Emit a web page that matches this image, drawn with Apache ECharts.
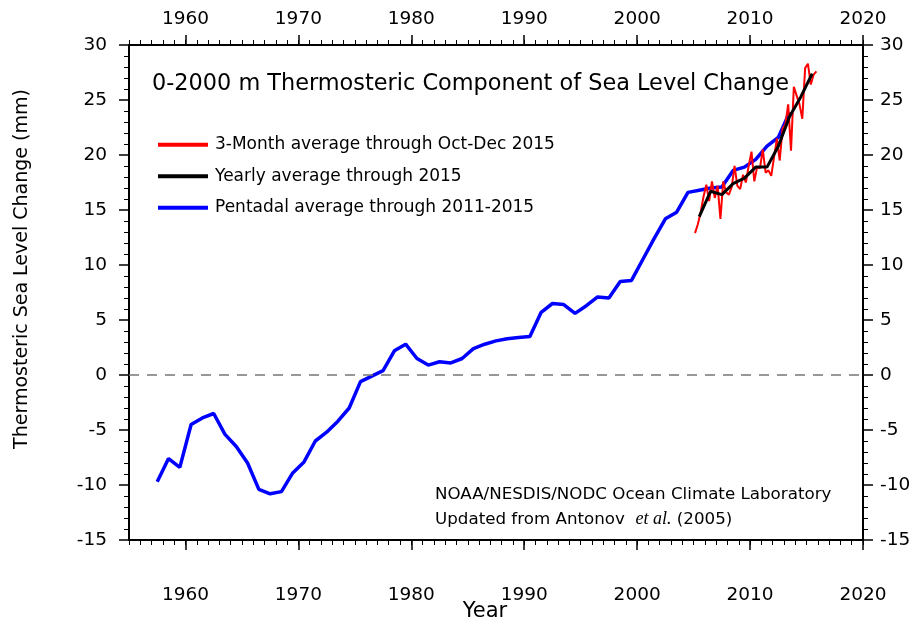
<!DOCTYPE html>
<html>
<head>
<meta charset="utf-8">
<script src="https://cdn.jsdelivr.net/npm/echarts@6/dist/echarts.min.js"></script>
<style>
  html, body { margin: 0; padding: 0; background: #fff; }
  #chart { width: 922px; height: 625px; }
</style>
</head>
<body>
<div id="chart"></div>
<script>
// Pentadal (5-year running) thermosteric sea level, mm, centred on each year
const pentadYears = [
  1957.5, 1958.5, 1959.5, 1960.5, 1961.5, 1962.5, 1963.5, 1964.5, 1965.5, 1966.5,
  1967.5, 1968.5, 1969.5, 1970.5, 1971.5, 1972.5, 1973.5, 1974.5, 1975.5, 1976.5,
  1977.5, 1978.5, 1979.5, 1980.5, 1981.5, 1982.5, 1983.5, 1984.5, 1985.5, 1986.5,
  1987.5, 1988.5, 1989.5, 1990.5, 1991.5, 1992.5, 1993.5, 1994.5, 1995.5, 1996.5,
  1997.5, 1998.5, 1999.5, 2000.5, 2001.5, 2002.5, 2003.5, 2004.5, 2005.5, 2006.5,
  2007.5, 2008.5, 2009.5, 2010.5, 2011.5, 2012.5, 2013.5
];
const pentadValues = [
  -9.7, -7.6, -8.4, -4.5, -3.9, -3.5, -5.4, -6.5, -8.0, -10.4,
  -10.8, -10.6, -8.9, -7.9, -6.0, -5.2, -4.2, -3.0, -0.6, -0.1,
  0.4, 2.2, 2.8, 1.5, 0.9, 1.2, 1.1, 1.5, 2.4, 2.8,
  3.1, 3.3, 3.4, 3.5, 5.7, 6.5, 6.4, 5.6, 6.3, 7.1,
  7.0, 8.5, 8.6, 10.5, 12.4, 14.2, 14.8, 16.6, 16.8, 17.0,
  17.1, 18.6, 18.9, 19.6, 20.8, 21.6, 23.9
];

// Yearly averages, 2005-2015
const yearlyYears = [2005.5, 2006.5, 2007.5, 2008.5, 2009.5, 2010.5, 2011.5, 2012.5, 2013.5, 2014.5, 2015.5];
const yearlyValues = [14.4, 16.7, 16.4, 17.4, 17.9, 18.9, 18.9, 20.8, 23.5, 25.3, 27.4];

// 3-month averages, Jan-Mar 2005 through Oct-Dec 2015
const seasonStart = 2005;
const seasonValues = [
  12.9, 13.7, 14.8, 16.2,
  17.3, 15.8, 17.6, 16.1,
  17.2, 14.2, 17.6, 16.6,
  16.4, 17.1, 19.0, 17.2,
  16.9, 18.2, 17.5, 19.0,
  20.3, 17.6, 18.9, 18.8,
  20.5, 18.4, 18.6, 18.1,
  19.8, 21.5, 19.5, 22.4,
  22.8, 24.6, 20.4, 26.2,
  25.4, 24.6, 23.3, 27.9,
  28.3, 26.4, 27.3, 27.6
];

const majorYears = [1960, 1970, 1980, 1990, 2000, 2010, 2020];

const FONT = 'DejaVu Sans, Liberation Sans, sans-serif';

const pair = (xs, ys) => xs.map((x, i) => [x, ys[i]]);
const seasonData = seasonValues.map((v, i) => [seasonStart + (i + 0.5) / 4, v]);

const majorX = (pos, margin) => ({
  type: 'value', position: pos, min: 1955, max: 2020,
  axisLine: { show: true, onZero: false, lineStyle: { color: '#000', width: 2 } },
  axisTick: { show: true, inside: false, length: 10, lineStyle: { color: '#000', width: 1.5 }, customValues: majorYears },
  axisLabel: {
    show: true, customValues: majorYears, margin: margin, color: '#000',
    fontSize: 18.5, fontFamily: FONT, formatter: (v) => String(v)
  },
  splitLine: { show: false }
});
const minorX = (pos) => ({
  type: 'value', position: pos, min: 1955, max: 2020, interval: 1,
  axisLine: { show: false, onZero: false },
  axisTick: { show: true, inside: false, length: 5, lineStyle: { color: '#000', width: 1 } },
  axisLabel: { show: false },
  splitLine: { show: false }
});
const yAx = (pos, margin) => ({
  type: 'value', position: pos, min: -15, max: 30, interval: 5,
  axisLine: { show: true, onZero: false, lineStyle: { color: '#000', width: 2 } },
  axisTick: { show: true, inside: false, length: 10, lineStyle: { color: '#000', width: 1.5 } },
  minorTick: { show: true, splitNumber: 5, length: 5, lineStyle: { color: '#000', width: 1 } },
  axisLabel: { show: true, margin: margin, color: '#000', fontSize: 18.5, fontFamily: FONT },
  splitLine: { show: false }
});

const chart = echarts.init(document.getElementById('chart'), null, { renderer: 'canvas' });
chart.setOption({
  backgroundColor: '#fff',
  animation: false,
  grid: { left: 129, right: 59, top: 45, bottom: 85, containLabel: false },
  xAxis: [majorX('bottom', 46), minorX('bottom'), majorX('top', 16), minorX('top')],
  yAxis: [yAx('left', 22), yAx('right', 17)],
  legend: {
    left: 153, top: 124, orient: 'vertical', itemGap: 0,
    itemWidth: 50, itemHeight: 4, icon: 'rect',
    textStyle: { color: '#000', fontSize: 17, fontFamily: FONT, lineHeight: 31.5, padding: [0, 0, 0, 2] },
    data: ['3-Month average through Oct-Dec 2015', 'Yearly average through 2015', 'Pentadal average through 2011-2015']
  },
  series: [
    {
      name: 'Pentadal average through 2011-2015', type: 'line', xAxisIndex: 0, yAxisIndex: 0,
      data: pair(pentadYears, pentadValues), showSymbol: false, symbol: 'none',
      lineStyle: { color: '#0000ff', width: 3.5 }, itemStyle: { color: '#0000ff' }, z: 3,
      markLine: {
        silent: true, symbol: 'none', label: { show: false },
        lineStyle: { color: '#777', width: 1.5, type: [10, 8] },
        data: [{ yAxis: 0 }]
      }
    },
    {
      name: '3-Month average through Oct-Dec 2015', type: 'line', xAxisIndex: 0, yAxisIndex: 0,
      data: seasonData, showSymbol: false, symbol: 'none',
      lineStyle: { color: '#ff0000', width: 2 }, itemStyle: { color: '#ff0000' }, z: 4
    },
    {
      name: 'Yearly average through 2015', type: 'line', xAxisIndex: 0, yAxisIndex: 0,
      data: pair(yearlyYears, yearlyValues), showSymbol: false, symbol: 'none',
      lineStyle: { color: '#000', width: 3 }, itemStyle: { color: '#000' }, z: 5
    }
  ],
  graphic: [
    {
      type: 'text', left: 152, top: 73,
      style: { text: '0-2000 m Thermosteric Component of Sea Level Change', fill: '#000', fontSize: 22.4, fontFamily: FONT }
    },
    {
      type: 'text', left: 435, top: 482,
      style: {
        text: 'NOAA/NESDIS/NODC Ocean Climate Laboratory\nUpdated from Antonov  {it|et al.} (2005)',
        fill: '#000', fontSize: 16.7, fontFamily: FONT, lineHeight: 25,
        rich: { it: { fontFamily: 'Liberation Serif, Times New Roman, serif', fontStyle: 'italic', fontSize: 18, lineHeight: 25 } }
      }
    },
    {
      type: 'text', x: 485, y: 612,
      style: { text: 'Year', fill: '#000', fontSize: 21, fontFamily: FONT, align: 'center', verticalAlign: 'middle' }
    },
    {
      type: 'text', x: 22, y: 269, rotation: Math.PI / 2,
      style: { text: 'Thermosteric Sea Level Change (mm)', fill: '#000', fontSize: 19, fontFamily: FONT, align: 'center', verticalAlign: 'middle' }
    }
  ]
});
</script>
</body>
</html>
